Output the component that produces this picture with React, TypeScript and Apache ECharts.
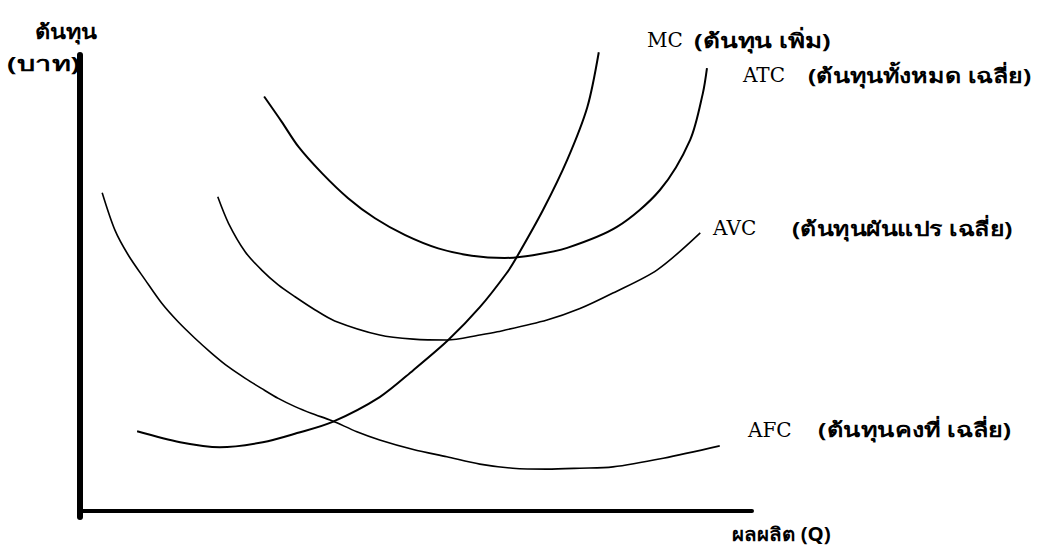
import React, { useEffect, useRef } from "react";
import * as echarts from "echarts";

// Quantity (Q) / cost points
const mcQ = [8.5, 14.9, 20.8, 27.2, 32.3, 37.5, 44.6, 49.6, 54.8, 59.5, 63.5, 65.0, 68.9, 72.5, 75.5, 77.2];
const mcC = [17.5, 15.1, 14.0, 15.1, 17.1, 19.5, 25.0, 30.9, 37.5, 44.7, 52.2, 55.7, 66.0, 77.0, 88.6, 100.6];

const atcQ = [27.4, 30.0, 32.5, 36.0, 39.9, 43.9, 48.4, 53.3, 58.3, 63.2, 67.4, 72.5, 79.9, 86.3, 90.8, 92.7, 93.3];
const atcC = [90.9, 85.4, 79.9, 74.1, 68.6, 64.2, 60.5, 57.6, 56.0, 55.5, 56.1, 57.7, 62.3, 70.4, 81.4, 91.7, 97.1];

const avcQ = [20.5, 22.1, 24.6, 27.0, 29.5, 32.0, 35.0, 37.9, 44.6, 49.6, 54.6, 59.5, 62.1, 69.5, 74.4, 79.3, 85.9, 92.3];
const avcC = [68.9, 63.1, 56.8, 52.9, 49.6, 47.0, 44.1, 41.7, 38.6, 37.7, 37.5, 38.6, 39.3, 41.9, 44.4, 47.8, 52.9, 61.0];

const afcQ = [3.3, 5.2, 7.2, 9.7, 12.2, 14.6, 17.1, 19.6, 22.1, 24.6, 27.0, 29.5, 32.0, 34.5, 37.5, 41.2, 44.6, 49.6, 54.6, 59.5, 64.4, 69.5, 74.4, 79.3, 86.8, 95.2];
const afcC = [69.8, 61.6, 56.1, 50.7, 45.5, 41.5, 37.9, 34.6, 31.6, 29.1, 26.9, 24.7, 22.9, 21.4, 19.8, 17.4, 15.6, 13.5, 11.9, 10.3, 9.4, 9.2, 9.4, 9.7, 11.6, 14.3];

const curveCodes = ["MC", "ATC", "AVC", "AFC"];
const curveNames = ["(ต้นทุน เพิ่ม)", "(ต้นทุนทั้งหมด เฉลี่ย)", "(ต้นทุนผันแปร เฉลี่ย)", "(ต้นทุนคงที่ เฉลี่ย)"];
const yAxisTitle = ["ต้นทุน", "(บาท)"];
const xAxisTitle = "ผลผลิต (Q)";

const zip = (xs: number[], ys: number[]) => xs.map((x, i) => [x, ys[i]]);

export default function App() {
  const ref = useRef<HTMLDivElement>(null);
  useEffect(() => {
    if (!ref.current) return;
    const chart = echarts.init(ref.current, null, { renderer: "svg" });
    const serif = "'DejaVu Serif', 'Liberation Serif', serif";
    const thai = "'Noto Sans', 'DejaVu Sans', sans-serif";
    const codeText = (s: string, x: number, y: number) => ({
      type: "text",
      x,
      y,
      style: { text: s, fontFamily: serif, fontSize: 20, fill: "#000", verticalAlign: "middle" },
    });
    const thaiText = (s: string, x: number, y: number, sx: number, size = 20) => ({
      type: "text",
      x,
      y,
      scaleX: sx,
      style: { text: s, fontFamily: thai, fontSize: size, fontWeight: "bold", fill: "#000", verticalAlign: "middle" },
    });
    const mk = (name: string, data: number[][], w: number) => ({
      name,
      type: "line",
      data,
      smooth: 0.3,
      symbol: "none",
      clip: false,
      lineStyle: { color: "#000", width: w },
    });
    chart.setOption({
      animation: false,
      backgroundColor: "#fff",
      grid: { left: 80, right: 294, top: 55, bottom: 32 },
      xAxis: {
        type: "value",
        min: 0,
        max: 100,
        axisLine: { show: true, onZero: true, lineStyle: { color: "#000", width: 4 } },
        axisTick: { show: false },
        axisLabel: { show: false },
        splitLine: { show: false },
      },
      yAxis: {
        type: "value",
        min: -1.3,
        max: 100,
        axisLine: { show: true, onZero: false, lineStyle: { color: "#000", width: 6 } },
        axisTick: { show: false },
        axisLabel: { show: false },
        splitLine: { show: false },
      },
      series: [
        mk("MC", zip(mcQ, mcC), 2),
        mk("ATC", zip(atcQ, atcC), 2),
        mk("AVC", zip(avcQ, avcC), 1.6),
        mk("AFC", zip(afcQ, afcC), 1.6),
      ],
      graphic: [
        codeText(curveCodes[0], 647, 40),
        thaiText(curveNames[0], 694, 40, 1.3),
        codeText(curveCodes[1], 743, 75),
        thaiText(curveNames[1], 808, 75, 1.25),
        codeText(curveCodes[2], 713, 228),
        thaiText(curveNames[2], 792, 228, 1.24),
        codeText(curveCodes[3], 748, 430),
        thaiText(curveNames[3], 818, 430, 1.26),
        thaiText(yAxisTitle[0], 35, 31, 1.17),
        thaiText(yAxisTitle[1], 7, 63, 1.44),
        thaiText(xAxisTitle, 732, 534, 1.08, 19),
      ],
    });
    return () => chart.dispose();
  }, []);
  return <div ref={ref} style={{ width: 1046, height: 549, position: "absolute", left: 0, top: 0 }} />;
}
